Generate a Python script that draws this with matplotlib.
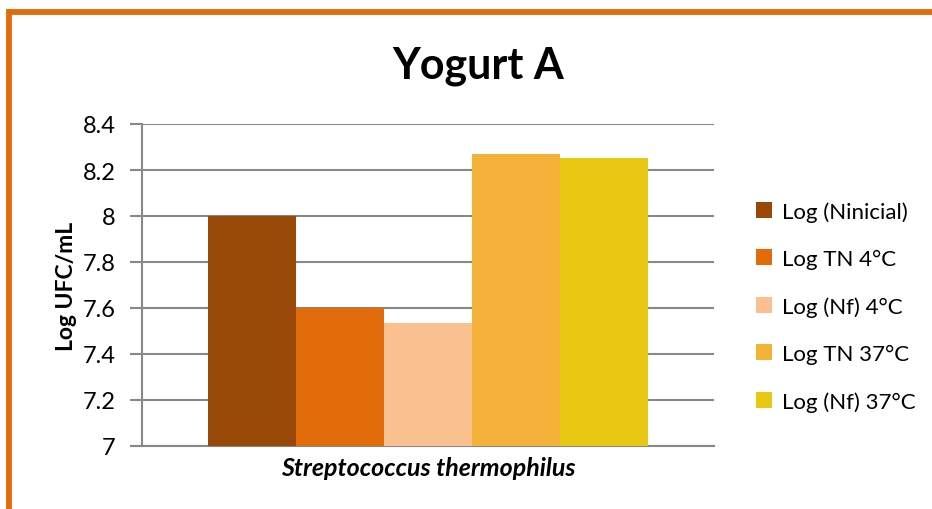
import matplotlib
matplotlib.use("Agg")
import matplotlib.pyplot as plt
from matplotlib.patches import Patch
from matplotlib.lines import Line2D
import numpy as np

title = "Yogurt A"
category = "Streptococcus thermophilus"
series = ["Log (Ninicial)", "Log TN 4°C", "Log (Nf) 4°C", "Log TN 37°C", "Log (Nf) 37°C"]
values = [8.0, 7.6, 7.535, 8.27, 8.252]
colors = ["#984807", "#E36C0A", "#FAC090", "#F4B23A", "#E8C813"]
yticks = [7, 7.2, 7.4, 7.6, 7.8, 8, 8.2, 8.4]
ytick_labels = ["7", "7.2", "7.4", "7.6", "7.8", "8", "8.2", "8.4"]

plt.rcParams['font.family'] = ['Lato', 'DejaVu Sans']

W, H = 932, 510
fig = plt.figure(figsize=(W / 100, H / 100), dpi=100)

# orange frame (top and left)
frame_col = "#E36C0A"
fig.add_artist(Line2D([9 / W, 1.0], [1 - 12.5 / H, 1 - 12.5 / H], color=frame_col, lw=4.2,
                      transform=fig.transFigure, solid_capstyle='butt'))
fig.add_artist(Line2D([9 / W, 9 / W], [1 - 10 / H, 0.0], color=frame_col, lw=4.2,
                      transform=fig.transFigure, solid_capstyle='butt'))

ax = fig.add_axes([141.7 / W, 1 - 447 / H, (714 - 141.7) / W, (447 - 125) / H])

n = len(values)
bw = 0.154
offsets = (np.arange(n) - (n - 1) / 2) * bw
for off, v, c, s in zip(offsets, values, colors, series):
    ax.bar(off, v - 7, bottom=7, width=bw, color=c, label=s, zorder=3, linewidth=0)

ax.set_xlim(-0.5, 0.5)
ax.set_ylim(7, 8.4)
ax.set_yticks(yticks)
ax.set_yticklabels(ytick_labels, fontsize=17)
ax.yaxis.grid(True, color="#888888", lw=1.5, zorder=0)
ax.set_xticks([0])
ax.set_xticklabels([category], fontsize=18, fontstyle='italic', fontweight='bold')
ax.tick_params(axis='x', length=0, pad=7)
ax.tick_params(axis='y', length=9, width=1.5, color="#888888", pad=10)

for side in ['top', 'right']:
    ax.spines[side].set_visible(False)
for side in ['left', 'bottom']:
    ax.spines[side].set_color("#888888")
    ax.spines[side].set_linewidth(1.5)

ax.set_ylabel("Log UFC/mL", fontsize=16.5, fontweight='bold', labelpad=4)

fig.text(478 / W, 1 - 66 / H, title, fontsize=31, fontweight='bold', ha='center', va='center')

handles = [Patch(facecolor=c, edgecolor='none') for c in colors]
fig.legend(handles, series, loc='upper left', bbox_to_anchor=(736 / W, 1 - 182 / H),
           frameon=False, fontsize=16, handlelength=0.7, handleheight=0.7,
           handletextpad=0.45, labelspacing=1.22)

fig.savefig("out.png", dpi=100, facecolor='white')
